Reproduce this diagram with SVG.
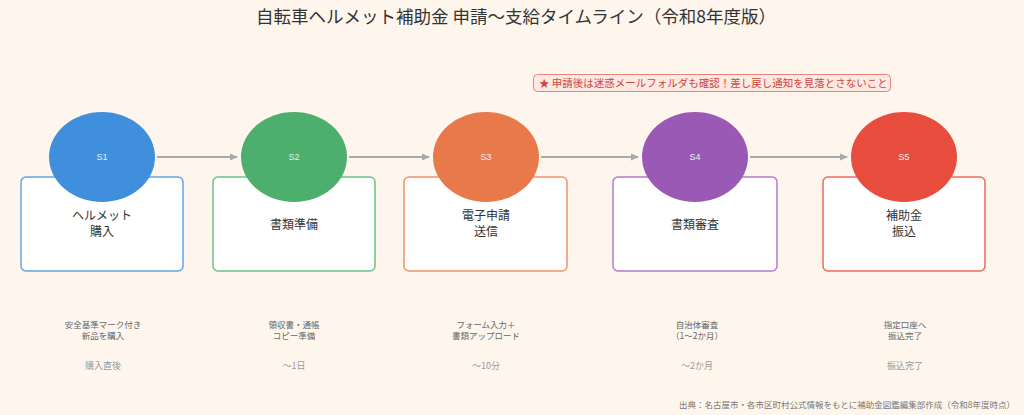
<svg xmlns="http://www.w3.org/2000/svg" width="1024" height="415" viewBox="0 0 1024 415">
<style>
text{font-family:"Noto Sans CJK JP","Noto Sans",sans-serif;}
.title{font-size:17.5px;fill:#333;text-anchor:middle;}
.lbl{font-size:12px;fill:#333;text-anchor:middle;}
.sid{font-size:9px;fill:#e8eef8;text-anchor:middle;font-family:"Liberation Sans",sans-serif;}
.desc{font-size:8.5px;fill:#666;text-anchor:middle;}
.time{font-size:9px;fill:#999;text-anchor:middle;}
.box{fill:#fff;stroke-width:1.5;}
.conn{stroke:#aaa;stroke-width:2;fill:none;marker-end:url(#ah);}
.warn{font-size:10.5px;fill:#d0453a;}
.src{font-size:8.5px;fill:#777;text-anchor:end;}
</style>
<defs>
<marker id="ah" markerWidth="8" markerHeight="8" refX="7" refY="4" orient="auto" markerUnits="userSpaceOnUse">
<path d="M0,0.5 L8,4 L0,7.5 Z" fill="#aaa"/>
</marker>
</defs>
<rect width="1024" height="415" fill="#fef6ed"/>
<text class="title" x="516" y="23">自転車ヘルメット補助金  申請〜支給タイムライン（令和8年度版）</text>
<g id="warning">
<rect x="533.5" y="74.5" width="357" height="17" rx="4" fill="#fde9e4" stroke="#e8827a" stroke-width="1"/>
<text class="warn" x="539" y="87">★  申請後は迷惑メールフォルダも確認！差し戻し通知を見落とさないこと</text>
</g>
<g id="connectors">
<line class="conn" x1="157" y1="157" x2="237" y2="157"/>
<line class="conn" x1="349" y1="157" x2="429" y2="157"/>
<line class="conn" x1="541" y1="157" x2="638" y2="157"/>
<line class="conn" x1="750" y1="157" x2="847" y2="157"/>
</g>
<g id="s1">
<rect class="box" x="21" y="177" width="162" height="94" rx="5" stroke="#5fa6e8"/>
<ellipse cx="102" cy="157" rx="53" ry="45" fill="#3f8fdd"/>
<text class="sid" x="102" y="160">S1</text>
<text class="lbl" x="102" y="219.5">ヘルメット</text>
<text class="lbl" x="102" y="235.5">購入</text>
<text class="desc" x="103" y="327.5">安全基準マーク付き</text>
<text class="desc" x="103" y="338.5">新品を購入</text>
<text class="time" x="103" y="369">購入直後</text>
</g>
<g id="s2">
<rect class="box" x="213" y="177" width="162" height="94" rx="5" stroke="#6cc08a"/>
<ellipse cx="294" cy="157" rx="53" ry="45" fill="#4caf6e"/>
<text class="sid" x="294" y="160">S2</text>
<text class="lbl" x="294" y="229">書類準備</text>
<text class="desc" x="294" y="327.5">領収書・通帳</text>
<text class="desc" x="294" y="338.5">コピー準備</text>
<text class="time" x="294" y="369">〜1日</text>
</g>
<g id="s3">
<rect class="box" x="404" y="177" width="163" height="94" rx="5" stroke="#f2936b"/>
<ellipse cx="486" cy="157" rx="53" ry="45" fill="#e8794a"/>
<text class="sid" x="486" y="160">S3</text>
<text class="lbl" x="486" y="219.5">電子申請</text>
<text class="lbl" x="486" y="235.5">送信</text>
<text class="desc" x="486" y="327.5">フォーム入力＋</text>
<text class="desc" x="486" y="338.5">書類アップロード</text>
<text class="time" x="486" y="369">〜10分</text>
</g>
<g id="s4">
<rect class="box" x="613" y="177" width="164" height="94" rx="5" stroke="#b27ccb"/>
<ellipse cx="695" cy="157" rx="53" ry="45" fill="#9b59b6"/>
<text class="sid" x="695" y="160">S4</text>
<text class="lbl" x="695" y="229">書類審査</text>
<text class="desc" x="697" y="327.5">自治体審査</text>
<text class="desc" x="697" y="338.5">（1〜2か月）</text>
<text class="time" x="697" y="369">〜2か月</text>
</g>
<g id="s5">
<rect class="box" x="823" y="177" width="162" height="94" rx="5" stroke="#ee6b5e"/>
<ellipse cx="904" cy="157" rx="53" ry="45" fill="#e74c3c"/>
<text class="sid" x="904" y="160">S5</text>
<text class="lbl" x="904" y="219.5">補助金</text>
<text class="lbl" x="904" y="235.5">振込</text>
<text class="desc" x="905" y="327.5">指定口座へ</text>
<text class="desc" x="905" y="338.5">振込完了</text>
<text class="time" x="905" y="369">振込完了</text>
</g>
<text class="src" x="1015" y="408">出典：名古屋市・各市区町村公式情報をもとに補助金図鑑編集部作成（令和8年度時点）</text>
</svg>
